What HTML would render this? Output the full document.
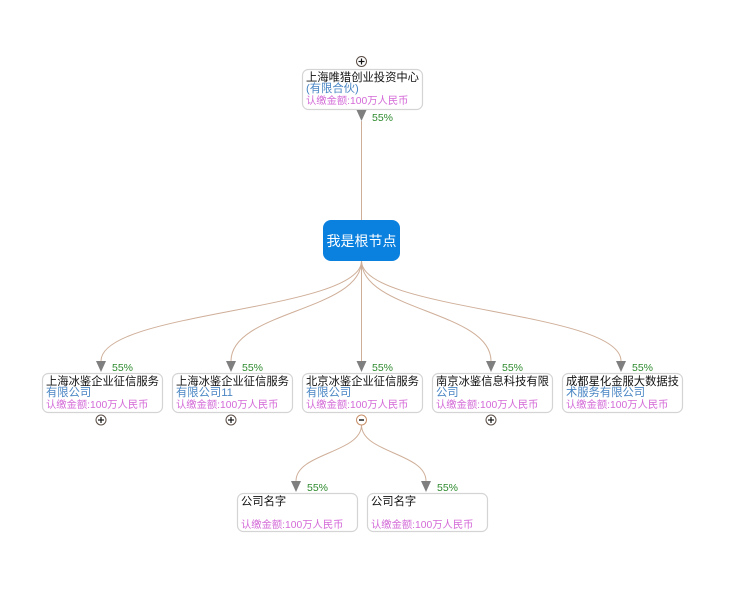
<!DOCTYPE html>
<html>
<head>
<meta charset="utf-8">
<style>
  html,body{margin:0;padding:0;background:#fff;}
  svg{display:block;}
  .t1{font-family:"Liberation Sans","Noto Sans CJK SC",sans-serif;font-size:11.3px;fill:#111;}
  .t2{font-family:"Liberation Sans","Noto Sans CJK SC",sans-serif;font-size:11.3px;fill:#4a86c4;}
  .t3{font-family:"Liberation Sans","Noto Sans CJK SC",sans-serif;font-size:10.3px;fill:#d46ad8;}
  .pct{font-family:"Liberation Sans","Noto Sans CJK SC",sans-serif;font-size:10.5px;fill:#2e8b2e;}
  .box{fill:#fff;stroke:#d4d4d4;stroke-width:1.2;}
  .lk{fill:none;stroke:#cfae98;stroke-width:1;}
  .arr{fill:#7f7f7f;}
</style>
</head>
<body>
<svg width="751" height="597" viewBox="0 0 751 597" xmlns="http://www.w3.org/2000/svg">
  <!-- links -->
  <line class="lk" x1="361.5" y1="121" x2="361.5" y2="220"/>
  <path class="lk" d="M361.5,261 C361.5,311 101,311 101,361"/>
  <path class="lk" d="M361.5,261 C361.5,311 231,311 231,361"/>
  <line class="lk" x1="361.5" y1="261" x2="361.5" y2="361"/>
  <path class="lk" d="M361.5,261 C361.5,311 491,311 491,361"/>
  <path class="lk" d="M361.5,261 C361.5,311 621,311 621,361"/>
  <path class="lk" d="M361.5,425 C361.5,453 296,453 296,481"/>
  <path class="lk" d="M361.5,425 C361.5,453 426,453 426,481"/>

  <!-- top node -->
  <circle cx="361.5" cy="61.5" r="5" fill="#fff" stroke="#5a4d45" stroke-width="1"/>
  <line x1="358.5" y1="61.5" x2="364.5" y2="61.5" stroke="#111" stroke-width="1.2"/>
  <line x1="361.5" y1="58.5" x2="361.5" y2="64.5" stroke="#111" stroke-width="1.2"/>
  <rect class="box" x="302.5" y="69.5" width="120" height="40" rx="6"/>
  <text class="t1" x="306" y="81">上海唯猎创业投资中心</text>
  <text class="t2" x="306" y="92">(有限合伙)</text>
  <text class="t3" x="306" y="104">认缴金额:100万人民币</text>
  <polygon class="arr" points="356.5,110 366.5,110 361.5,121"/>
  <text class="pct" x="372" y="121">55%</text>

  <!-- root -->
  <rect x="323" y="220" width="77" height="41" rx="8" fill="#0a80df"/>
  <text x="361.5" y="246" text-anchor="middle" font-family="'Liberation Sans','Noto Sans CJK SC',sans-serif" font-size="14" fill="#fff">我是根节点</text>

  <!-- level 2 arrows & pct -->
  <polygon class="arr" points="96,361 106,361 101,372"/>
  <text class="pct" x="112" y="371">55%</text>
  <polygon class="arr" points="226,361 236,361 231,372"/>
  <text class="pct" x="242" y="371">55%</text>
  <polygon class="arr" points="356.5,361 366.5,361 361.5,372"/>
  <text class="pct" x="372" y="371">55%</text>
  <polygon class="arr" points="486,361 496,361 491,372"/>
  <text class="pct" x="502" y="371">55%</text>
  <polygon class="arr" points="616,361 626,361 621,372"/>
  <text class="pct" x="632" y="371">55%</text>

  <!-- level 2 boxes -->
  <rect class="box" x="42.5" y="373.5" width="120" height="39" rx="6"/>
  <text class="t1" x="46" y="385">上海冰鉴企业征信服务</text>
  <text class="t2" x="46" y="396">有限公司</text>
  <text class="t3" x="46" y="408">认缴金额:100万人民币</text>

  <rect class="box" x="172.5" y="373.5" width="120" height="39" rx="6"/>
  <text class="t1" x="176" y="385">上海冰鉴企业征信服务</text>
  <text class="t2" x="176" y="396">有限公司11</text>
  <text class="t3" x="176" y="408">认缴金额:100万人民币</text>

  <rect class="box" x="302.5" y="373.5" width="120" height="39" rx="6"/>
  <text class="t1" x="306" y="385">北京冰鉴企业征信服务</text>
  <text class="t2" x="306" y="396">有限公司</text>
  <text class="t3" x="306" y="408">认缴金额:100万人民币</text>

  <rect class="box" x="432.5" y="373.5" width="120" height="39" rx="6"/>
  <text class="t1" x="436" y="385">南京冰鉴信息科技有限</text>
  <text class="t2" x="436" y="396">公司</text>
  <text class="t3" x="436" y="408">认缴金额:100万人民币</text>

  <rect class="box" x="562.5" y="373.5" width="120" height="39" rx="6"/>
  <text class="t1" x="566" y="385">成都星化金服大数据技</text>
  <text class="t2" x="566" y="396">术服务有限公司</text>
  <text class="t3" x="566" y="408">认缴金额:100万人民币</text>

  <!-- expand/collapse circles -->
  <g stroke-width="1">
    <circle cx="101" cy="420" r="5" fill="#fff" stroke="#5a4d45"/>
    <line x1="98" y1="420" x2="104" y2="420" stroke="#111" stroke-width="1.2"/>
    <line x1="101" y1="417" x2="101" y2="423" stroke="#111" stroke-width="1.2"/>

    <circle cx="231" cy="420" r="5" fill="#fff" stroke="#5a4d45"/>
    <line x1="228" y1="420" x2="234" y2="420" stroke="#111" stroke-width="1.2"/>
    <line x1="231" y1="417" x2="231" y2="423" stroke="#111" stroke-width="1.2"/>

    <circle cx="361.5" cy="420" r="5" fill="#fff" stroke="#c8906a"/>
    <line x1="359" y1="420" x2="364" y2="420" stroke="#111" stroke-width="1.4"/>

    <circle cx="491" cy="420" r="5" fill="#fff" stroke="#5a4d45"/>
    <line x1="488" y1="420" x2="494" y2="420" stroke="#111" stroke-width="1.2"/>
    <line x1="491" y1="417" x2="491" y2="423" stroke="#111" stroke-width="1.2"/>
  </g>

  <!-- level 3 -->
  <polygon class="arr" points="291,481 301,481 296,492"/>
  <text class="pct" x="307" y="491">55%</text>
  <polygon class="arr" points="421,481 431,481 426,492"/>
  <text class="pct" x="437" y="491">55%</text>

  <rect class="box" x="237.5" y="493.5" width="120" height="38" rx="6"/>
  <text class="t1" x="241" y="505">公司名字</text>
  <text class="t3" x="241" y="528">认缴金额:100万人民币</text>

  <rect class="box" x="367.5" y="493.5" width="120" height="38" rx="6"/>
  <text class="t1" x="371" y="505">公司名字</text>
  <text class="t3" x="371" y="528">认缴金额:100万人民币</text>
</svg>
</body>
</html>
